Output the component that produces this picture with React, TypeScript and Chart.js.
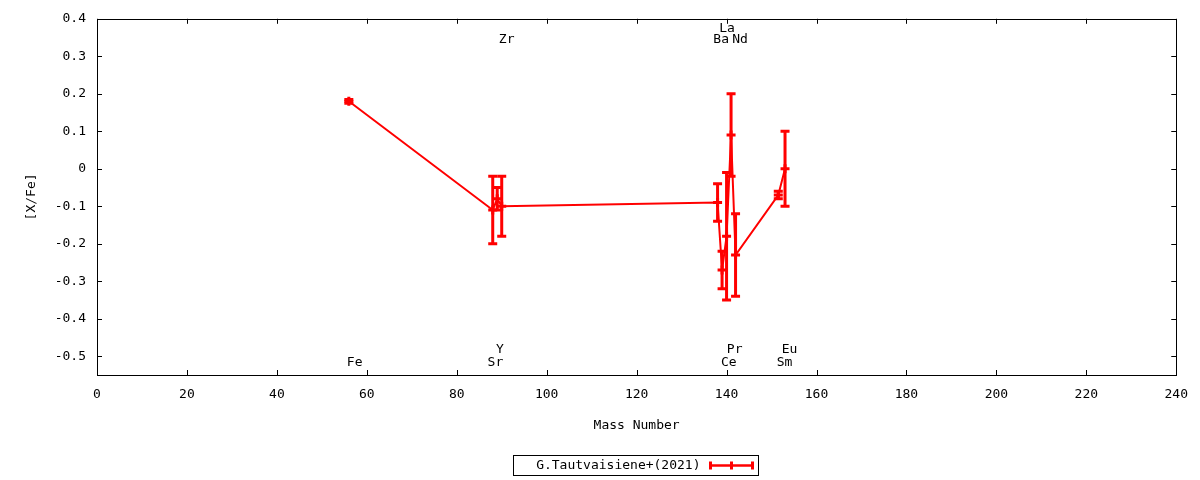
import React, { useEffect, useRef } from "react";
import { Chart, registerables } from "chart.js";

Chart.register(...registerables);

// ---- data ----
const elements = ["Fe", "Sr", "Y", "Zr", "Ba", "La", "Ce", "Pr", "Nd", "Sm", "Eu"];
const massNumbers = [56, 88, 89, 90, 138, 139, 140, 141, 142, 151.5, 153];
const xFeValues = [0.18, -0.11, -0.08, -0.1, -0.09, -0.27, -0.18, 0.09, -0.23, -0.07, 0.0];
const xFeErrors = [0.005, 0.09, 0.03, 0.08, 0.05, 0.05, 0.17, 0.11, 0.11, 0.01, 0.1];

const labelTexts = ["Fe", "Sr", "Y", "Zr", "Ba", "La", "Nd", "Ce", "Pr", "Sm", "Eu"];
const labelX = [57.3, 88.6, 89.6, 91.1, 138.8, 140.1, 143.0, 140.5, 141.8, 152.9, 154.0];
const labelY = [-0.518, -0.518, -0.481, 0.344, 0.344, 0.373, 0.344, -0.518, -0.481, -0.518, -0.481];

const xTicks = [0, 20, 40, 60, 80, 100, 120, 140, 160, 180, 200, 220, 240];
const yTicks = [-0.5, -0.4, -0.3, -0.2, -0.1, 0, 0.1, 0.2, 0.3, 0.4];

const seriesName = "G.Tautvaisiene+(2021)";
const xTitle = "Mass Number";
const yTitle = "[X/Fe]";

const FONT = "'DejaVu Sans Mono', monospace";
const RED = "#ff0000";

const decorPlugin = {
  id: "decor",
  afterDatasetsDraw(chart: any) {
    const { ctx, scales } = chart;
    const xs = scales.x;
    const ys = scales.y;
    ctx.save();
    ctx.strokeStyle = RED;
    ctx.lineWidth = 3;
    ctx.lineCap = "butt";
    for (let i = 0; i < massNumbers.length; i++) {
      const px = xs.getPixelForValue(massNumbers[i]);
      const top = ys.getPixelForValue(xFeValues[i] + xFeErrors[i]);
      const bot = ys.getPixelForValue(xFeValues[i] - xFeErrors[i]);
      ctx.beginPath();
      ctx.moveTo(px, top - 1.5);
      ctx.lineTo(px, bot + 1.5);
      ctx.moveTo(px - 4.5, top);
      ctx.lineTo(px + 4.5, top);
      ctx.moveTo(px - 4.5, bot);
      ctx.lineTo(px + 4.5, bot);
      ctx.stroke();
    }
    ctx.restore();
  },
  afterDraw(chart: any) {
    const { ctx, chartArea, scales } = chart;
    const xs = scales.x;
    const ys = scales.y;
    const { left, right, top, bottom } = chartArea;
    ctx.save();
    // frame
    ctx.strokeStyle = "#000";
    ctx.lineWidth = 1;
    ctx.strokeRect(Math.round(left) + 0.5, Math.round(top) + 0.5, Math.round(right - left), Math.round(bottom - top));
    // inward ticks (mirrored)
    const TL = 5;
    ctx.beginPath();
    for (const v of xTicks) {
      const px = Math.round(xs.getPixelForValue(v)) + 0.5;
      ctx.moveTo(px, bottom);
      ctx.lineTo(px, bottom - TL);
      ctx.moveTo(px, top);
      ctx.lineTo(px, top + TL);
    }
    for (const v of yTicks) {
      const py = Math.round(ys.getPixelForValue(v)) + 0.5;
      ctx.moveTo(left, py);
      ctx.lineTo(left + TL, py);
      ctx.moveTo(right, py);
      ctx.lineTo(right - TL, py);
    }
    ctx.stroke();

    // element labels
    ctx.fillStyle = "#000";
    ctx.font = "13px " + FONT;
    ctx.textAlign = "center";
    ctx.textBaseline = "middle";
    for (let i = 0; i < labelTexts.length; i++) {
      ctx.fillText(labelTexts[i], xs.getPixelForValue(labelX[i]), ys.getPixelForValue(labelY[i]));
    }

    // legend
    const cx = (left + right) / 2 - 1;
    const bw = 245;
    const bx = Math.round(cx - bw / 2) + 0.5;
    const by = 455.5;
    ctx.strokeStyle = "#000";
    ctx.lineWidth = 1;
    ctx.strokeRect(bx, by, bw, 20);
    ctx.textAlign = "right";
    ctx.fillText(seriesName, bx + 187, by + 10);
    const sx0 = bx + 197;
    const sx1 = bx + 239;
    const sy = by + 10;
    ctx.strokeStyle = RED;
    ctx.lineWidth = 2.5;
    ctx.beginPath();
    ctx.moveTo(sx0, sy);
    ctx.lineTo(sx1, sy);
    ctx.stroke();
    ctx.lineWidth = 3;
    ctx.beginPath();
    ctx.moveTo(sx0, sy - 4);
    ctx.lineTo(sx0, sy + 4);
    ctx.moveTo(sx1, sy - 4);
    ctx.lineTo(sx1, sy + 4);
    ctx.moveTo((sx0 + sx1) / 2, sy - 4);
    ctx.lineTo((sx0 + sx1) / 2, sy + 4);
    ctx.stroke();
    ctx.restore();
  },
};

export default function App() {
  const ref = useRef<HTMLCanvasElement | null>(null);
  useEffect(() => {
    if (!ref.current) return;
    const font = { family: FONT, size: 13 };
    const chart = new Chart(ref.current, {
      type: "scatter",
      data: {
        datasets: [
          {
            label: seriesName,
            data: massNumbers.map((m, i) => ({ x: m, y: xFeValues[i] })),
            showLine: true,
            borderColor: RED,
            backgroundColor: RED,
            borderWidth: 2,
            pointStyle: "cross",
            pointRadius: 4.5,
            pointBorderWidth: 3,
            pointBorderColor: RED,
          },
        ],
      },
      options: {
        animation: false,
        responsive: false,
        layout: { padding: { top: 15, right: 23, left: 0, bottom: 0 } },
        plugins: { legend: { display: false }, tooltip: { enabled: false } },
        scales: {
          x: {
            type: "linear",
            min: 0,
            max: 240,
            afterBuildTicks: (s: any) => {
              s.ticks = xTicks.map((v) => ({ value: v }));
            },
            afterFit: (s: any) => {
              s.height = 105;
            },
            grid: { display: false, drawTicks: false },
            border: { display: false },
            ticks: { font, color: "#000", padding: 12, maxRotation: 0, autoSkip: false, callback: (v: any) => String(v) },
            title: { display: true, text: xTitle, font, color: "#000", padding: { top: 0, bottom: 47 } },
          },
          y: {
            type: "linear",
            min: -0.55,
            max: 0.4,
            afterBuildTicks: (s: any) => {
              s.ticks = yTicks.map((v) => ({ value: v }));
            },
            afterFit: (s: any) => {
              s.width = 97;
            },
            grid: { display: false, drawTicks: false },
            border: { display: false },
            ticks: {
              font,
              color: "#000",
              padding: 11,
              autoSkip: false,
              callback: (v: any) => (Math.abs(v) < 1e-9 ? "0" : Number(v).toFixed(1)),
            },
            title: { display: true, text: yTitle, font, color: "#000", padding: { top: 24, bottom: 0 } },
          },
        },
      },
      plugins: [decorPlugin],
    } as any);
    return () => chart.destroy();
  }, []);

  return (
    <div style={{ position: "fixed", left: 0, top: 0, width: 1200, height: 480, background: "#fff" }}>
      <canvas ref={ref} width={1200} height={480} style={{ display: "block", width: 1200, height: 480 }} />
    </div>
  );
}
